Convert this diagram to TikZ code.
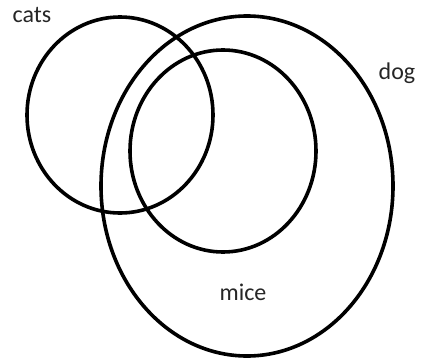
\documentclass[tikz,border=0pt]{standalone}
\usepackage{fontspec}
\setmainfont{Carlito}
\begin{document}
\begin{tikzpicture}[x=1pt,y=-1pt,
  ring/.style={draw=black,line width=3.6pt},
  lbl/.style={font=\fontsize{24}{27}\selectfont,text=black!85,inner sep=0pt}]
\useasboundingbox (0,0) rectangle (421,362);
\draw[ring] (120,115) ellipse [x radius=93, y radius=98];
\draw[ring] (247,186) ellipse [x radius=146, y radius=170];
\draw[ring] (223,151) ellipse [x radius=93, y radius=101];
\node[lbl] (cats) at (32,15) {cats};
\node[lbl] (dog) at (397,73) {dog};
\node[lbl] (mice) at (243,292) {mice};
\end{tikzpicture}
\end{document}
